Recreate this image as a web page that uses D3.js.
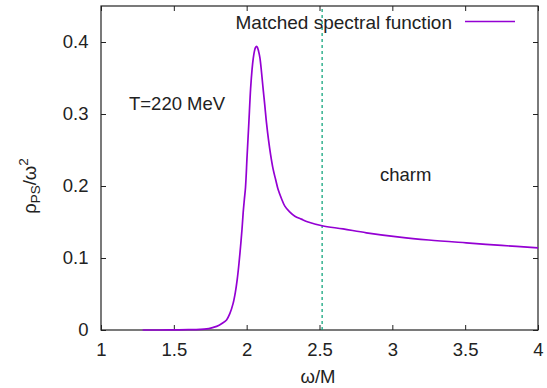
<!DOCTYPE html>
<html>
<head>
<meta charset="utf-8">
<script src="https://cdn.jsdelivr.net/npm/d3@7"></script>
<style>
  body { margin: 0; background: white; }
  text { font-family: "Liberation Sans", Arial, sans-serif; fill: #222; }
</style>
</head>
<body>
<script>
// data
var omega = [1.286, 1.4, 1.5, 1.6, 1.68, 1.725, 1.76, 1.794, 1.83, 1.862, 1.885, 1.907, 1.922, 1.935, 1.947, 1.958, 1.968, 1.976, 1.984, 1.992,
  2.003, 2.015, 2.027, 2.037, 2.045, 2.053, 2.06, 2.068, 2.075, 2.082, 2.091, 2.102, 2.113, 2.125, 2.136, 2.15, 2.164, 2.182, 2.2, 2.216, 2.24, 2.262,
  2.295, 2.331, 2.375, 2.422, 2.518, 2.662, 2.822, 3.05, 3.25, 3.508, 3.75, 4.0];
var rho = [0.0, 0.0, 0.0002, 0.0004, 0.0008, 0.0015, 0.003, 0.005, 0.009, 0.014, 0.023, 0.037, 0.052, 0.070, 0.092, 0.116, 0.140, 0.163, 0.181, 0.198,
  0.242, 0.288, 0.335, 0.362, 0.377, 0.387, 0.392, 0.394, 0.392, 0.387, 0.378, 0.358, 0.335, 0.311, 0.288, 0.264, 0.244, 0.223, 0.208, 0.195, 0.182, 0.172,
  0.164, 0.158, 0.154, 0.150, 0.1448, 0.1404, 0.135, 0.129, 0.125, 0.121, 0.1175, 0.114];
var xTicks = [1, 1.5, 2, 2.5, 3, 3.5, 4];
var yTicks = [0, 0.1, 0.2, 0.3, 0.4];
var cutoff = 2.518;

var width = 547, height = 388;
var margin = {top: 6, right: 9, bottom: 58, left: 101};
var fs = '18.5px';

var svg = d3.select('body').append('svg')
  .attr('width', width)
  .attr('height', height);

var x = d3.scaleLinear().domain([1, 4]).range([margin.left, width - margin.right]);
var y = d3.scaleLinear().domain([0, 0.45]).range([height - margin.bottom, margin.top]);

// mirrored inward ticks
var tickLen = 5;
svg.append('g')
  .attr('transform', `translate(0,${height - margin.bottom})`)
  .call(d3.axisBottom(x).tickValues(xTicks).tickSize(-tickLen).tickPadding(12.5).tickFormat(d3.format('')))
  .call(g => g.select('.domain').remove())
  .selectAll('text').style('font-size', fs);
svg.append('g')
  .attr('transform', `translate(0,${margin.top})`)
  .call(d3.axisTop(x).tickValues(xTicks).tickSize(-tickLen).tickFormat(''))
  .call(g => g.select('.domain').remove());
svg.append('g')
  .attr('transform', `translate(${margin.left},0)`)
  .call(d3.axisLeft(y).tickValues(yTicks).tickSize(-tickLen).tickPadding(12.5).tickFormat(d3.format('')))
  .call(g => g.select('.domain').remove())
  .selectAll('text').style('font-size', fs);
svg.append('g')
  .attr('transform', `translate(${width - margin.right},0)`)
  .call(d3.axisRight(y).tickValues(yTicks).tickSize(-tickLen).tickFormat(''))
  .call(g => g.select('.domain').remove());

svg.selectAll('.tick line').attr('stroke', '#222');
svg.selectAll('.tick text').attr('fill', '#222').style('font-family', '"Liberation Sans", Arial, sans-serif');

// frame
svg.append('rect')
  .attr('x', margin.left).attr('y', margin.top)
  .attr('width', width - margin.right - margin.left)
  .attr('height', height - margin.bottom - margin.top)
  .attr('fill', 'none').attr('stroke', '#222').attr('stroke-width', 1.2);

// cutoff line
svg.append('line')
  .attr('x1', x(cutoff)).attr('x2', x(cutoff))
  .attr('y1', y(0)).attr('y2', y(0.45))
  .attr('stroke', '#009e73').attr('stroke-width', 1.2)
  .attr('stroke-dasharray', '3,3');

// curve
var pts = omega.map(function(d, i) { return [d, rho[i]]; });
var line = d3.line()
  .x(function(d) { return x(d[0]); })
  .y(function(d) { return y(d[1]); })
  .curve(d3.curveCatmullRom.alpha(0.5));
svg.append('path')
  .datum(pts)
  .attr('d', line)
  .attr('fill', 'none')
  .attr('stroke', '#9400d3')
  .attr('stroke-width', 1.7);

// legend
svg.append('text').attr('x', 452).attr('y', 28.5).attr('text-anchor', 'end')
  .style('font-size', '19px').text('Matched spectral function');
svg.append('line').attr('x1', 465).attr('x2', 515).attr('y1', 21.5).attr('y2', 21.5)
  .attr('stroke', '#9400d3').attr('stroke-width', 1.7);

// annotations
svg.append('text').attr('x', 129).attr('y', 110).style('font-size', fs).text('T=220 MeV');
svg.append('text').attr('x', 380).attr('y', 181).style('font-size', fs).text('charm');

// axis labels
svg.append('text').attr('x', 318).attr('y', 383).attr('text-anchor', 'middle')
  .style('font-size', fs).text('ω/M');
var yl = svg.append('text')
  .attr('transform', 'translate(36,186) rotate(-90)')
  .attr('text-anchor', 'middle')
  .style('font-size', fs);
yl.append('tspan').text('ρ');
yl.append('tspan').attr('dy', 4).style('font-size', '13.5px').text('PS');
yl.append('tspan').attr('dy', -4).text('/ω');
yl.append('tspan').attr('dy', -8).style('font-size', '13.5px').text('2');
</script>
</body>
</html>
